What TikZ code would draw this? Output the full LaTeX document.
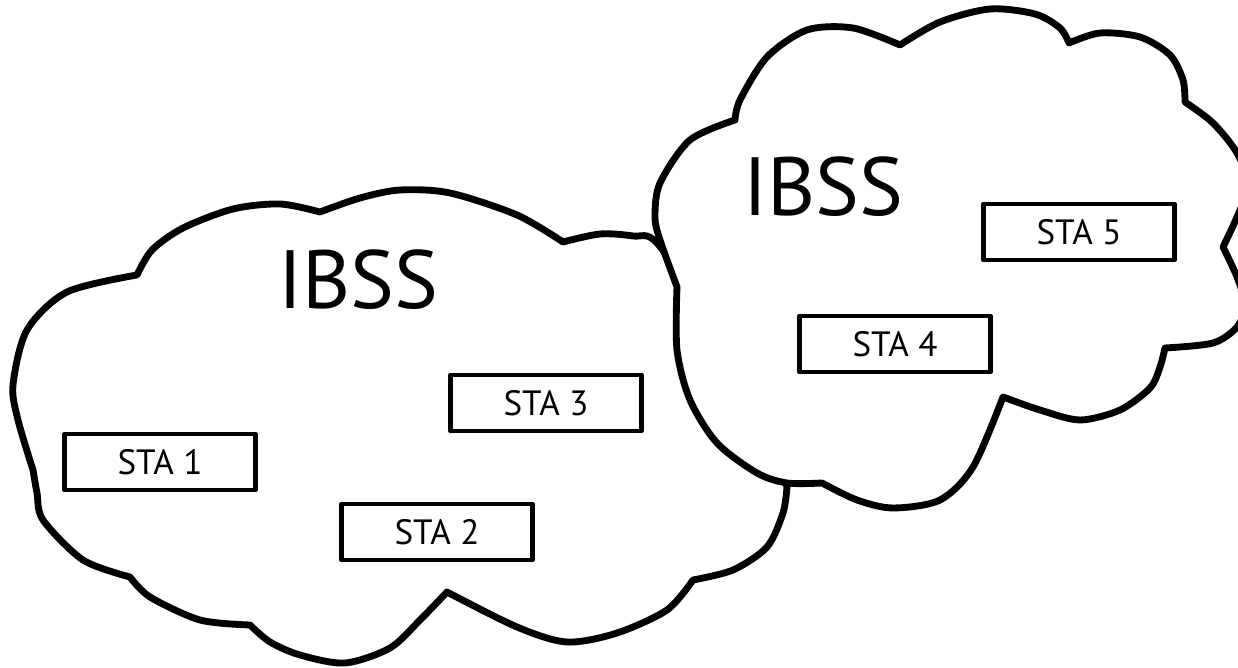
\documentclass[tikz,border=0pt]{standalone}
\usepackage{fontspec}
\setmainfont{PT Sans}

\begin{document}
\begin{tikzpicture}[x=0.02cm, y=-0.02cm, line join=round,
    cloud/.style={line width=3.9pt, fill=white},
    sta/.style={draw, line width=2.5pt, fill=white, minimum width=3.82cm, minimum height=1.12cm, inner sep=0pt, font=\fontsize{20}{24}\selectfont},
    ibss/.style={inner sep=0pt, font=\fontsize{47}{50}\selectfont}]
    \useasboundingbox (0,0) rectangle (1238,668);
    \clip (0,0) rectangle (1238,668);

    % Left cloud
    \draw[cloud] plot[smooth] coordinates {(137,275) (152,250) (183,228) (233,209) (280,204) (320,212)}
        -- plot[smooth] coordinates {(320,212) (360,198) (400,190) (450,193) (517,215) (563,242)}
        -- plot[smooth] coordinates {(563,242) (600,234) (633,236) (657,243) (710,320) (760,420) (787,487)}
        -- plot[smooth] coordinates {(787,487) (783,513) (767,547) (733,570) (693,580)}
        -- plot[smooth] coordinates {(693,580) (667,610) (617,633) (567,642) (517,627) (447,592)}
        -- plot[smooth] coordinates {(447,592) (420,620) (390,648) (345,663) (300,655) (270,642) (250,625)}
        -- plot[smooth] coordinates {(250,625) (200,620) (150,597) (130,577)}
        -- plot[smooth] coordinates {(130,577) (83,560) (43,520) (37,493) (33,470)}
        -- plot[smooth] coordinates {(33,470) (18,420) (13,385) (27,330) (67,292) (137,275)}
        -- cycle;

    % Right cloud
    \draw[cloud] plot[smooth] coordinates {(735,120) (740,100) (767,57) (807,30) (853,28) (900,45)}
        -- plot[smooth] coordinates {(900,45) (940,22) (990,9) (1035,14) (1060,28) (1069,43)}
        -- plot[smooth] coordinates {(1069,43) (1100,33) (1140,37) (1170,55) (1183,80) (1185,102)}
        -- plot[smooth] coordinates {(1185,102) (1213,123) (1237,153) (1248,185) (1237,217) (1223,247)}
        -- plot[smooth] coordinates {(1223,247) (1237,277) (1245,305) (1237,327) (1213,343) (1165,348)}
        -- plot[smooth] coordinates {(1165,348) (1160,367) (1150,388) (1120,410) (1080,420) (1040,410) (1003,397)}
        -- plot[smooth] coordinates {(1003,397) (973,467) (940,500) (893,508) (857,500) (822,483)}
        -- plot[smooth] coordinates {(822,483) (787,483) (757,473) (717,443) (690,400) (677,350) (677,287)}
        -- plot[smooth] coordinates {(677,287) (660,240) (655,217) (660,183) (690,140) (735,120)}
        -- cycle;

    % Labels
    \node[ibss] (IBSS-1) at (358,280) {IBSS};
    \node[ibss] (IBSS-2) at (823,187) {IBSS};

    % Stations
    \foreach \i/\x/\y in {1/160/462, 2/437/532, 3/546/403, 4/895/344, 5/1079/232}
    {
        \node[sta] (STA-\i) at (\x,\y) {STA \i};
    }
\end{tikzpicture}
\end{document}
